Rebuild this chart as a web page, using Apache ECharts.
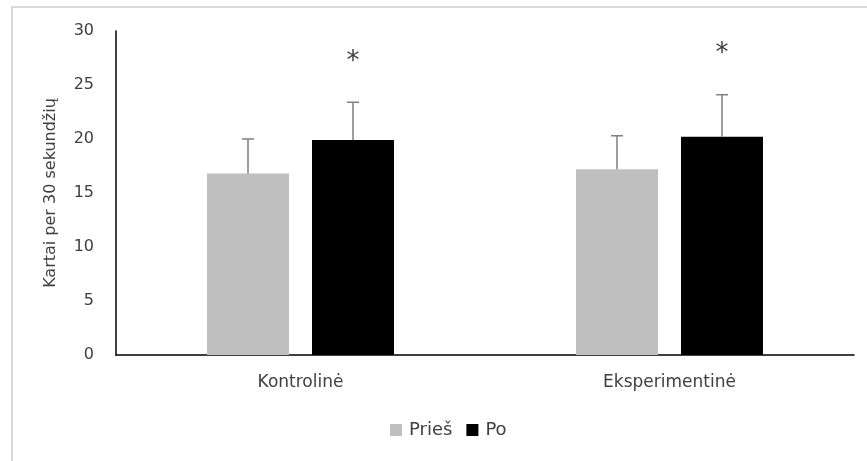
<!DOCTYPE html>
<html>
<head>
<meta charset="utf-8">
<script src="https://cdn.jsdelivr.net/npm/echarts@6/dist/echarts.min.js"></script>
<style>
  html, body { margin: 0; padding: 0; background: #fff; }
  #frame { position: absolute; left: 11px; top: 6px; width: 856px; height: 455px;
           border-top: 2px solid #d9d9d9; border-left: 2px solid #d9d9d9; box-sizing: border-box; }
  #main { position: absolute; left: 0; top: 0; width: 867px; height: 461px; }
</style>
</head>
<body>
<div id="frame"></div>
<div id="main"></div>
<script>
var categories = ['Kontrolinė', 'Eksperimentinė'];
var seriesNames = ['Prieš', 'Po'];
var priesValues = [16.8, 17.2];
var poValues = [19.9, 20.2];
var priesErrors = [3.2, 3.1];
var poErrors = [3.5, 3.9];
var poSignificant = [true, true];

var BAR_W = 82, BAR_GAP = 23;
var textColor = '#404040';
var font = 'DejaVu Sans';

function errorSeries(name, values, errors, side, stars) {
    return {
        name: name + ' err',
        type: 'custom',
        silent: true,
        z: 5,
        renderItem: function (params, api) {
            var i = api.value(0);
            var base = api.coord([i, api.value(1)]);
            var top = api.coord([i, api.value(1) + api.value(2)]);
            var x = base[0] + side * (BAR_W / 2 + BAR_GAP / 2);
            var children = [
                { type: 'line', shape: { x1: x, y1: base[1], x2: x, y2: top[1] },
                  style: { stroke: '#7f7f7f', lineWidth: 1.5 } },
                { type: 'line', shape: { x1: x - 6, y1: top[1], x2: x + 6, y2: top[1] },
                  style: { stroke: '#7f7f7f', lineWidth: 1.5 } }
            ];
            if (stars && stars[i]) {
                children.push({ type: 'text', x: x, y: top[1] - 40,
                    style: { text: '*', fill: '#404040', font: '26px "DejaVu Sans"',
                             align: 'center', verticalAlign: 'middle' } });
            }
            return { type: 'group', children: children };
        },
        data: values.map(function (v, i) { return [i, v, errors[i]]; })
    };
}

var chart = echarts.init(document.getElementById('main'));
chart.setOption({
    backgroundColor: 'transparent',
    animation: false,
    grid: { left: 116, right: 13, top: 31, bottom: 106 },
    legend: {
        data: seriesNames,
        bottom: 17,
        left: 385,
        itemWidth: 12,
        itemHeight: 12,
        itemGap: 14,
        icon: 'rect',
        textStyle: { color: textColor, fontSize: 18, fontFamily: font, padding: [0, 0, 0, 2] }
    },
    xAxis: {
        type: 'category',
        data: categories,
        axisLine: { lineStyle: { color: '#000', width: 1.5 } },
        axisTick: { show: false },
        axisLabel: { color: textColor, fontSize: 17, fontFamily: font, margin: 19 }
    },
    yAxis: {
        type: 'value',
        min: 0,
        max: 30,
        interval: 5,
        name: 'Kartai per 30 sekundžių',
        nameLocation: 'middle',
        nameGap: 57,
        nameTextStyle: { color: textColor, fontSize: 16, fontFamily: font },
        axisLine: { show: true, lineStyle: { color: '#000', width: 1.5 } },
        axisTick: { show: false },
        splitLine: { show: false },
        axisLabel: { color: textColor, fontSize: 16, fontFamily: font, margin: 22 }
    },
    series: [
        { name: seriesNames[0], type: 'bar', data: priesValues, barWidth: BAR_W, barGap: (BAR_GAP / BAR_W * 100) + '%',
          itemStyle: { color: '#bfbfbf' } },
        { name: seriesNames[1], type: 'bar', data: poValues, barWidth: BAR_W,
          itemStyle: { color: '#000' } },
        errorSeries(seriesNames[0], priesValues, priesErrors, -1, null),
        errorSeries(seriesNames[1], poValues, poErrors, 1, poSignificant)
    ]
});
</script>
</body>
</html>
